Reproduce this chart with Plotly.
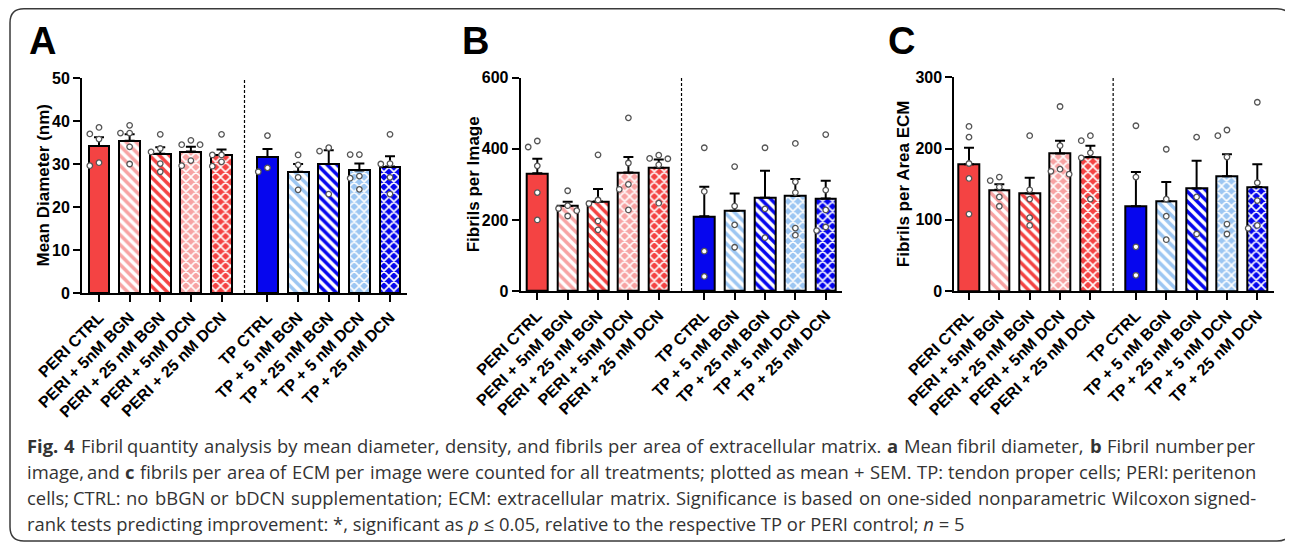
import re
import plotly.graph_objects as go

# ---------------- data ----------------
labels = ["PERI CTRL", "PERI + 5nM BGN", "PERI + 25 nM BGN", "PERI + 5nM DCN", "PERI + 25 nM DCN",
          "TP CTRL", "TP + 5 nM BGN", "TP + 25 nM BGN", "TP + 5 nM DCN", "TP + 25 nM DCN"]

diam_mean = [34.2, 35.4, 32.4, 32.9, 32.1, 31.6, 28.2, 30.0, 28.5, 29.4]
diam_sem = [2.0, 1.5, 1.5, 1.1, 1.3, 1.9, 1.8, 3.2, 1.6, 2.4]
diam_pts = [[38.5, 37.0, 35.8, 29.6, 30.3], [39.0, 37.2, 37.2, 34.0, 30.0], [36.9, 32.8, 33.6, 30.1, 28.2],
            [34.5, 34.5, 35.5, 29.6, 30.8], [36.9, 32.1, 32.1, 29.5, 30.5], [36.6, 28.2, 29.1],
            [32.1, 29.8, 26.9, 24.0], [33.8, 33.0, 23.0], [32.2, 32.2, 27.2, 26.7, 24.1],
            [36.9, 30.0, 30.1, 26.9, 23.0]]

img_mean = [331, 239, 252, 333, 347, 210, 226, 262, 267, 260]
img_sem = [41, 12, 35, 44, 23, 83, 48, 76, 48, 50]
img_pts = [[422, 405, 352, 277, 200], [282, 240, 232, 226, 211], [383, 246, 256, 197, 172],
           [487, 360, 300, 286, 228], [372, 382, 373, 355, 247], [403, 280, 112, 41],
           [350, 239, 186, 123], [403, 231, 150], [415, 307, 277, 177, 157], [440, 284, 228, 170, 180]]

ecm_mean = [178, 142, 137, 193, 188, 119, 126, 144, 161, 146]
ecm_sem = [23, 8, 22, 18, 16, 48, 27, 39, 31, 32]
ecm_pts = [[231, 216, 179, 158, 108], [160, 155, 146, 132, 119], [218, 142, 129, 103, 92],
           [259, 204, 171, 164, 168], [211, 218, 194, 187, 129], [232, 160, 62, 22],
           [199, 129, 105, 72], [216, 132, 80], [226, 218, 188, 94, 80], [265, 152, 127, 88, 92]]

y_titles = ["Mean Diameter (nm)", "Fibrils per Image", "Fibrils per Area ECM"]
y_max = [50, 600, 300]
y_dtick = [10, 200, 100]
panel_letters = ["A", "B", "C"]

caption_lines = [
    "<b>Fig.</b> <b>4</b> Fibril quantity analysis by mean diameter, density, and fibrils per area of extracellular matrix. <b>a</b> Mean fibril diameter, <b>b</b> Fibril number per",
    "image, and <b>c</b> fibrils per area of ECM per image were counted for all treatments; plotted as mean + SEM. TP: tendon proper cells; PERI: peritenon",
    "cells; CTRL: no bBGN or bDCN supplementation; ECM: extracellular matrix. Significance is based on one-sided nonparametric Wilcoxon signed-",
    "rank tests predicting improvement: *, significant as <i>p</i> ≤ 0.05, relative to the respective TP or PERI control; <i>n</i> = 5",
]

# ---------------- geometry / styles ----------------
OFF = 8                      # page body margin of the browser
W, H = 1293 - OFF, 546 - OFF  # figure size so that the page fits the window exactly
def fx(px):
    return (px - OFF) / W
def fy(py):
    return 1 - (py - OFF) / H

RED, PINK, BLUE, LBLUE = "#F44343", "#F7A3A3", "#0606EE", "#9CC6F2"
positions = [0, 1, 2, 3, 4, 5.5, 6.5, 7.5, 8.5, 9.5]
sep_pos = (positions[4] + positions[5]) / 2


def bar_style(i):
    dark, light = (RED, PINK) if i < 5 else (BLUE, LBLUE)
    j = i % 5
    if j == 0:
        return dict(color=dark, pattern=dict(shape=""))
    if j in (1, 2):
        c = light if j == 1 else dark
        return dict(color=c, pattern=dict(shape="\\", fgcolor=c, bgcolor="white", solidity=0.5,
                                          size=7, fillmode="replace", fgopacity=1))
    c = light if j == 3 else dark
    return dict(color=c, pattern=dict(shape="x", fgcolor="white", bgcolor=c, solidity=0.4,
                                      size=7, fillmode="replace", fgopacity=1))


# panel geometry in reference pixels: (x_left, x_right, y_bottom, y_top, xrange)
geo = [
    (82, 407, 293, 78, [-0.555, 10.055]),
    (520.7, 842.3, 291, 77.7, [-0.547, 10.046]),
    (954.3, 1274, 291, 77.3, [-0.484, 10.05]),
]
ytitle_x = [43, 473, 903]
letter_x = [42, 475, 901]


def swarm(vals, ppu_y, ppu_x, diam=6.8, step=0.3):
    placed = []
    res = [0.0] * len(vals)
    order = sorted(range(len(vals)), key=lambda i: -vals[i])
    for i in order:
        y = vals[i] * ppu_y
        for s in [0, -1, 1, -2, 2]:
            xo = s * step * ppu_x
            if all((xo - px) ** 2 + (y - py) ** 2 >= diam ** 2 for px, py in placed):
                break
        placed.append((xo, y))
        res[i] = s * step
    return res


fig = go.Figure()
datasets = [(diam_mean, diam_sem, diam_pts), (img_mean, img_sem, img_pts), (ecm_mean, ecm_sem, ecm_pts)]
annotations = []
shapes = []
font_bold = dict(family="Liberation Sans, Arial", size=16, color="black", weight="bold")

for k, (mean, sem, pts) in enumerate(datasets):
    xl, xr, yb, yt, xr_rng = geo[k]
    suffix = "" if k == 0 else str(k + 1)
    xa, ya = "x" + suffix, "y" + suffix
    for i in range(len(mean)):
        st = bar_style(i)
        fig.add_trace(go.Bar(
            x=[positions[i]], y=[mean[i]], width=0.68, xaxis=xa, yaxis=ya,
            marker=dict(color=st["color"], line=dict(color="black", width=2), pattern=st["pattern"]),
            error_y=dict(type="data", array=[sem[i]], arrayminus=[0], symmetric=False,
                         color="black", thickness=2, width=5),
            showlegend=False, hoverinfo="skip"))
    ppu_y = (yb - yt) / y_max[k]
    ppu_x = (xr - xl) / (xr_rng[1] - xr_rng[0])
    px_, py_ = [], []
    for i, vals in enumerate(pts):
        offs = swarm(vals, ppu_y, ppu_x)
        for v, o in zip(vals, offs):
            px_.append(positions[i] + o)
            py_.append(v)
    fig.add_trace(go.Scatter(
        x=px_, y=py_, mode="markers", xaxis=xa, yaxis=ya, cliponaxis=False,
        marker=dict(size=5.5, color="white", line=dict(color="#555555", width=1.3)),
        showlegend=False, hoverinfo="skip"))

    fig.update_layout(**{
        "xaxis" + suffix: dict(
            domain=[fx(xl), fx(xr)], range=xr_rng, anchor=ya, automargin=False,
            tickvals=positions, ticktext=labels, tickangle=-45, tickfont=font_bold,
            ticks="outside", ticklen=7, tickwidth=2, tickcolor="black",
            showline=True, linecolor="black", linewidth=2, showgrid=False, zeroline=False),
        "yaxis" + suffix: dict(
            domain=[fy(yb), fy(yt)], range=[0, y_max[k]], anchor=xa, dtick=y_dtick[k],
            automargin=False,
            tickfont=font_bold, ticks="outside", ticklen=7, tickwidth=2, tickcolor="black",
            showline=True, linecolor="black", linewidth=2, showgrid=False, zeroline=False),
    })
    shapes.append(dict(type="line", xref=xa, yref=ya, x0=sep_pos, x1=sep_pos, y0=0, y1=y_max[k],
                       line=dict(color="black", width=1.2, dash="3px,2px")))
    annotations.append(dict(text=y_titles[k], xref="paper", yref="paper", x=fx(ytitle_x[k]),
                            y=fy((yb + yt) / 2), textangle=-90, showarrow=False,
                            xanchor="center", yanchor="middle",
                            font=dict(family="Liberation Sans, Arial", size=17, color="black",
                                      weight="bold")))
    annotations.append(dict(text=panel_letters[k], xref="paper", yref="paper", x=fx(letter_x[k]),
                            y=fy(41), showarrow=False, xanchor="center", yanchor="middle",
                            font=dict(family="Liberation Sans, Arial", size=38, color="black",
                                      weight="bold")))

# ---------------- caption (justified like the journal layout) ----------------
REG = {' ': 532, 'a': 1139, 'b': 1255, 'c': 975, 'd': 1255, 'e': 1149, 'f': 694, 'g': 1122,
       'h': 1257, 'i': 518, 'j': 518, 'k': 1075, 'l': 518, 'm': 1905, 'n': 1257, 'o': 1237,
       'p': 1255, 'q': 1255, 'r': 836, 's': 977, 't': 723, 'u': 1257, 'v': 1026, 'w': 1593,
       'x': 1073, 'y': 1028, 'z': 937, 'A': 1296, 'B': 1327, 'C': 1292, 'D': 1493, 'E': 1139,
       'F': 1057, 'G': 1491, 'H': 1511, 'I': 571, 'J': 547, 'K': 1257, 'L': 1063, 'M': 1849,
       'N': 1544, 'O': 1595, 'P': 1233, 'Q': 1595, 'R': 1266, 'S': 1124, 'T': 1149, 'U': 1511,
       'V': 1237, 'W': 1917, 'X': 1194, 'Y': 1163, 'Z': 1169, '.': 545, ',': 502, ':': 545,
       ';': 545, '-': 659, '+': 1171, '=': 1171, '*': 1061, '≤': 1171}
BOLD_EXTRA = 1.13
CAP_SIZE = 18.4
CAP_FONT = dict(family="Open Sans", size=CAP_SIZE, color="#333333")


def word_width(word):
    bold = "<b>" in word
    plain = re.sub(r"<[^>]+>", "", word)
    w = sum(REG.get(ch, 1171) for ch in plain) / 2048 * CAP_SIZE
    return w * (BOLD_EXTRA if bold else 1.0)


cap_left, cap_right = 25, 1258
cap_y = [445, 471, 497, 523]
for li, (line, yy) in enumerate(zip(caption_lines, cap_y)):
    if li == len(caption_lines) - 1:
        annotations.append(dict(text=line, xref="paper", yref="paper", x=fx(cap_left), y=fy(yy),
                                showarrow=False, xanchor="left", yanchor="middle", align="left",
                                font=CAP_FONT))
        continue
    words = line.split(" ")
    widths = [word_width(w) for w in words]
    gap = (cap_right - cap_left - sum(widths)) / (len(words) - 1)
    x = cap_left
    for wi, (w, ww) in enumerate(zip(words, widths)):
        if wi == 0:
            annotations.append(dict(text=w, xref="paper", yref="paper", x=fx(cap_left), y=fy(yy),
                                    showarrow=False, xanchor="left", yanchor="middle", font=CAP_FONT))
        elif wi == len(words) - 1:
            annotations.append(dict(text=w, xref="paper", yref="paper", x=fx(cap_right), y=fy(yy),
                                    showarrow=False, xanchor="right", yanchor="middle", font=CAP_FONT))
        else:
            annotations.append(dict(text=w, xref="paper", yref="paper", x=fx(x + ww / 2), y=fy(yy),
                                    showarrow=False, xanchor="center", yanchor="middle", font=CAP_FONT))
        x += ww + gap

# rounded border
x0, x1, y0, y1, r = 10, 1291, 8.8, 541, 14
def P(x, y):
    return f"{fx(x):.5f},{fy(y):.5f}"
path = (f"M {P(x0 + r, y0)} L {P(x1 - r, y0)} Q {P(x1, y0)} {P(x1, y0 + r)} "
        f"L {P(x1, y1 - r)} Q {P(x1, y1)} {P(x1 - r, y1)} L {P(x0 + r, y1)} "
        f"Q {P(x0, y1)} {P(x0, y1 - r)} L {P(x0, y0 + r)} Q {P(x0, y0)} {P(x0 + r, y0)} Z")
shapes.append(dict(type="path", xref="paper", yref="paper", path=path,
                   line=dict(color="#3a3a3a", width=1.5)))

fig.update_layout(template="none", width=W, height=H, barmode="overlay",
                  margin=dict(l=0, r=0, t=0, b=0, autoexpand=False),
                  paper_bgcolor="white", plot_bgcolor="rgba(0,0,0,0)",
                  annotations=annotations, shapes=shapes, bargap=0)
fig.write_html("out.html")
